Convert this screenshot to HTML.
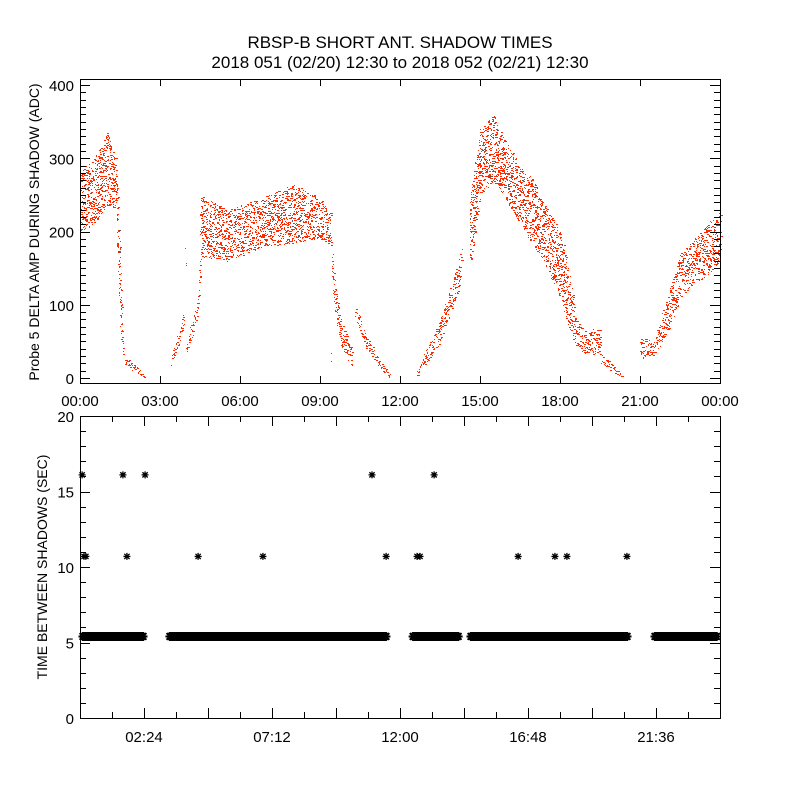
<!DOCTYPE html>
<html><head><meta charset="utf-8">
<style>
html,body{margin:0;padding:0;background:#fff;}
svg{display:block;font-family:"Liberation Sans",sans-serif;}
</style></head>
<body>
<svg id="chart" width="800" height="800" viewBox="0 0 800 800">
<rect x="0" y="0" width="800" height="800" fill="#fff"/>
<text x="400" y="48" text-anchor="middle" font-size="17">RBSP-B SHORT ANT. SHADOW TIMES</text>
<text x="400" y="68" text-anchor="middle" font-size="17">2018 051 (02/20) 12:30 to 2018 052 (02/21) 12:30</text>
<g id="topPanel"></g>
<g id="botPanel"></g>
</svg>
<script>
// ---- Top panel data: envelope of delta amplitude (hours, low, high) per segment ----
const segA_t=[0,0.5,1.0,1.3,1.4,1.5,1.6];
const segA_lo=[200,210,235,230,150,60,30];
const segA_hi=[285,300,335,310,250,150,70];
const segB_t=[1.65,2.0,2.4];
const segB_lo=[18,10,0];
const segB_hi=[28,20,5];
const segC_t=[3.4,3.65,3.9];
const segC_lo=[15,40,70];
const segC_hi=[30,60,92];
const segD_t=[3.95,4.2,4.4,4.5];
const segD_lo=[30,55,90,150];
const segD_hi=[45,80,110,180];
const segE_t=[4.5,5.5,7,8,9,9.4];
const segE_lo=[165,160,180,185,190,180];
const segE_hi=[250,230,250,265,245,225];
const segF_t=[9.4,9.6,9.8,10.2];
const segF_lo=[140,70,40,15];
const segF_hi=[190,110,80,35];
const segH_t=[10.3,10.7,11.2,11.6];
const segH_lo=[85,40,15,0];
const segH_hi=[100,60,25,5];
const segI_t=[12.6,13.0,13.5,14.1,14.3];
const segI_lo=[0,20,50,110,140];
const segI_hi=[10,40,80,150,180];
const segJ_t=[14.6,15,15.5,16,16.5,17,17.5,18,18.3,18.6,19.0,19.5];
const segJ_lo=[150,250,270,240,210,180,150,110,70,40,30,35];
const segJ_hi=[250,340,360,320,290,270,230,200,150,80,60,75];
const segK_t=[19.5,19.9,20.3];
const segK_lo=[20,10,0];
const segK_hi=[35,20,5];
const segL_t=[21.0,21.5,22,22.5,23,23.5,24];
const segL_lo=[25,30,60,110,130,140,160];
const segL_hi=[55,50,110,170,190,210,230];
const topSegments=[[segA_t,segA_lo,segA_hi],[segB_t,segB_lo,segB_hi],[segC_t,segC_lo,segC_hi],[segD_t,segD_lo,segD_hi],[segE_t,segE_lo,segE_hi],[segF_t,segF_lo,segF_hi],[segH_t,segH_lo,segH_hi],[segI_t,segI_lo,segI_hi],[segJ_t,segJ_lo,segJ_hi],[segK_t,segK_lo,segK_hi],[segL_t,segL_lo,segL_hi]];
const topXTicks=["00:00","03:00","06:00","09:00","12:00","15:00","18:00","21:00","00:00"];
const topYTicks=[0,100,200,300,400];

// ---- Bottom panel data ----
const bandValue=5.4;
const bandStart=[0,3.26,12.38,14.55,21.45];
const bandEnd=[2.51,11.63,14.33,20.66,24];
const star16Times=[0.08,1.61,2.44,10.95,13.28];
const star16Value=16.1;
const star11Times=[0.15,0.22,1.76,4.43,6.86,11.48,12.64,12.75,16.43,17.81,18.26,20.51];
const star11Value=10.7;
const botXTicks=["02:24","07:12","12:00","16:48","21:36"];
const botYTicks=[0,5,10,15,20];

const NS="http://www.w3.org/2000/svg";
function mk(tag,attrs,parent){const e=document.createElementNS(NS,tag);for(const k in attrs)e.setAttribute(k,attrs[k]);parent.appendChild(e);return e;}

// axis functions
const X0=80,X1=720;
const xH=h=>X0+h*(X1-X0)/24;
const yTop=v=>378-v*0.7325;
const yBot=v=>718-v*15.1;

// ---- top panel ----
const topG=document.getElementById('topPanel');
let seed=12345;
function rnd(){seed=(Math.imul(seed,1103515245)+12345)>>>0;return (seed>>>8)/16777216;}
function interp(ts,vs,t){for(let i=0;i<ts.length-1;i++){if(t>=ts[i]&&t<=ts[i+1]){const f=(t-ts[i])/((ts[i+1]-ts[i])||1);return vs[i]+f*(vs[i+1]-vs[i]);}}return vs[vs.length-1];}
const dots=mk('g',{},topG);


let path="",pathDark="";
topSegments.forEach(seg=>{
  const ts=seg[0],lo=seg[1],hi=seg[2];
  const x0=xH(ts[0]),x1=xH(ts[ts.length-1]);
  for(let px=x0;px<=x1;px+=0.5){
    const t=(px-X0)*24/(X1-X0);
    const l=interp(ts,lo,t),h=interp(ts,hi,t);
    const span=Math.abs(yTop(l)-yTop(h));
    const n=Math.max(1,Math.round(span/8));
    for(let k=0;k<n;k++){
      const v=l+rnd()*(h-l);
      const x=Math.round(px+rnd()),y=Math.round(yTop(v));
      const w=rnd()<0.35?2:1;
      if(rnd()<0.04&&span>40) pathDark+=`M${x} ${y}h${w}v1h-${w}z`;
      else path+=`M${x} ${y}h${w}v1h-${w}z`;
    }
  }
});
const pr=mk('path',{d:path,fill:'#ff2a00'},dots);


const pd=mk('path',{d:pathDark,fill:'#556'},dots);



function frame(parent,y0,y1,name){
  const r=mk('rect',{x:X0+0.5,y:y0+0.5,width:X1-X0,height:y1-y0,fill:'none',stroke:'#000','stroke-width':1},parent);
  
  
}
frame(topG,79,383,'top-plot-frame');
let tk="";
topXTicks.forEach((lab,i)=>{
  const x=xH(i*3)+0.5;
  tk+=`M${x} 383v-7M${x} 79v7`;
  const t=mk('text',{x:xH(i*3),y:406,'text-anchor':'middle','font-size':15},topG);
  t.textContent=lab;
  
  
});
for(let v=0;v<=400;v+=10){
  const y=Math.round(yTop(v))+0.5;const L=(v%100===0)?10:6;
  tk+=`M${X0} ${y}h${L}M${X1} ${y}h-${L}`;
}
topYTicks.forEach(v=>{
  const t=mk('text',{x:74,y:yTop(v)+6,'text-anchor':'end','font-size':15},topG);
  t.textContent=v;
  
  
});
const tp=mk('path',{d:tk,stroke:'#000','stroke-width':1,fill:'none'},topG);


const yt=mk('text',{x:0,y:0,'text-anchor':'middle','font-size':14,transform:'translate(39,232) rotate(-90)'},topG);
yt.textContent='Probe 5 DELTA AMP DURING SHADOW (ADC)';



// ---- bottom panel ----
const botG=document.getElementById('botPanel');
frame(botG,416,718,'bottom-plot-frame');
function star(x,y,s){return `M${x-s} ${y}h${2*s}M${x} ${y-s}v${2*s}M${x-s*0.75} ${y-s*0.75}l${1.5*s} ${1.5*s}M${x-s*0.75} ${y+s*0.75}l${1.5*s} -${1.5*s}`;}
let sp="";
bandStart.forEach((s,i)=>{
  for(let x=xH(s)+3;x<=xH(bandEnd[i])-3;x+=1.5) sp+=star(x,yBot(bandValue),4.5);
});
const band=mk('path',{d:sp,stroke:'#000','stroke-width':2,fill:'none'},botG);


let s2="";
star16Times.forEach(t=>{s2+=star(xH(t),yBot(star16Value),3.5);});
star11Times.forEach(t=>{s2+=star(xH(t),yBot(star11Value),3.5);});
const st=mk('path',{d:s2,stroke:'#000','stroke-width':1.3,fill:'none'},botG);


let bk="";
for(let i=0;i<=20;i++){
  const x=Math.round(xH(i*1.2))+0.5;const L=(i%2===0)?10:6;
  bk+=`M${x} 718v-${L}M${x} 416v${L}`;
}
for(let v=0;v<=20;v++){
  const y=Math.round(yBot(v))+0.5;const L=(v%5===0)?10:6;
  bk+=`M${X0} ${y}h${L}M${X1} ${y}h-${L}`;
}
const bp=mk('path',{d:bk,stroke:'#000','stroke-width':1,fill:'none'},botG);


botXTicks.forEach((lab,i)=>{
  const t=mk('text',{x:xH((i*2+1)*2.4),y:742,'text-anchor':'middle','font-size':15},botG);
  t.textContent=lab;
  
  
});
botYTicks.forEach(v=>{
  const t=mk('text',{x:74,y:yBot(v)+6,'text-anchor':'end','font-size':15},botG);
  t.textContent=v;
  
  
});
const by=mk('text',{x:0,y:0,'text-anchor':'middle','font-size':14,transform:'translate(47,567) rotate(-90)'},botG);
by.textContent='TIME BETWEEN SHADOWS (SEC)';


</script>
</body></html>
